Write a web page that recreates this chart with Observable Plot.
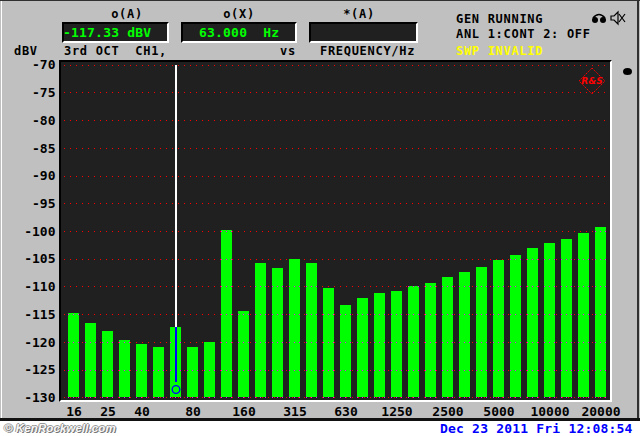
<!DOCTYPE html>
<html>
<head>
<meta charset="utf-8">
<script src="https://cdn.jsdelivr.net/npm/d3@7"></script>
<script src="https://cdn.jsdelivr.net/npm/@observablehq/plot@0.6"></script>
<style>
  html, body { margin: 0; padding: 0; background: #ffffff; }
  #wrap { position: relative; width: 640px; height: 436px; overflow: hidden; background: #ffffff;
          font-family: "DejaVu Sans Mono", monospace; font-weight: bold; }
  #screen { position: absolute; left: 0; top: 0; width: 640px; height: 418px; background: #c0c0c0; }
  .t { position: absolute; white-space: pre; font-size: 12px; line-height: 12px; letter-spacing: 0.7px; color: #000; }
  .c { text-align: center; width: 60px; }
  .box { position: absolute; box-sizing: border-box; height: 21px; top: 22px; background: #202020;
         border-top: 2px solid #000; border-left: 2px solid #000; border-right: 2px solid #fff; border-bottom: 2px solid #fff; }
  .g { position: absolute; white-space: pre; font-size: 13px; line-height: 13px; letter-spacing: 0.2px; color: #00ff00; }
  #panel { position: absolute; left: 59px; top: 60px; width: 553px; height: 342px; box-sizing: border-box;
           background: #202020; border-top: 2px solid #000; border-left: 2px solid #000;
           border-right: 2px solid #fff; border-bottom: 2px solid #fff; }
  #chart svg { position: absolute; left: 0; top: 0; }
</style>
</head>
<body>
<div id="wrap">
  <div id="screen"></div>
  <div style="position:absolute;left:0;top:0;width:640px;height:1px;background:#303030"></div>
  <div style="position:absolute;left:1px;top:1px;width:1px;height:417px;background:#ffffff"></div>
  <div style="position:absolute;left:637px;top:0;width:2px;height:418px;background:#303030"></div>
  <div style="position:absolute;left:0;top:418px;width:640px;height:3px;background:#111"></div>
  <div id="panel"></div>
  <div id="header"></div>
  <div id="chart"></div>
</div>
<script>
// ---- data ----
const bands = ["16","20","25","31.5","40","50","63","80","100","125","160","200","250","315","400","500",
               "630","800","1000","1250","1600","2000","2500","3150","4000","5000","6300","8000","10000","12500","16000","20000"];
const levels = [-114.8,-116.6,-118.0,-119.7,-120.4,-120.9,-117.33,-120.9,-120.0,-99.9,-114.4,-105.8,-106.7,-105.0,-105.8,-110.3,
                -113.4,-112.1,-111.2,-110.8,-109.9,-109.4,-108.3,-107.4,-106.5,-105.2,-104.3,-103.1,-102.2,-101.4,-100.4,-99.3];
const xTickLabels = ["16","25","40","80","160","315","630","1250","2500","5000","10000","20000"];
const yTicks = [-70,-75,-80,-85,-90,-95,-100,-105,-110,-115,-120,-125,-130];
const yDomain = [-130, -70];
const cursorBand = "63";
const cursorLevel = -117.33;
const cursorMarkerLevel = -128.5;
const cursorStemEnd = -127.2;

const readoutLabels = ["o(A)", "o(X)", "*(A)"];
const readoutValues = ["-117.33 dBV", "63.000  Hz", ""];
const statusLines = ["GEN RUNNING", "ANL 1:CONT 2: OFF", "SWP INVALID"];
const yUnit = "dBV";
const subtitleLeft = "3rd OCT  CH1,";
const subtitleVs = "vs";
const subtitleRight = "FREQUENCY/Hz";
const dateText = "Dec 23 2011 Fri 12:08:54";
const watermark = "\u00A9 KenRockwell.com";

// ---- header (HTML) ----
const header = document.getElementById("header");
function add(html) { header.insertAdjacentHTML("beforeend", html); }
const labelCenters = [127, 239, 359];
readoutLabels.forEach((s, i) => add(`<div class="t c" style="left:${labelCenters[i]-30}px;top:8px">${s}</div>`));
const boxes = [[62,107],[181,116],[309,109]];
boxes.forEach(([l,w], i) => add(`<div class="box" style="left:${l}px;width:${w}px"></div>`));
add(`<div class="g" style="left:63px;top:26px">${readoutValues[0]}</div>`);
add(`<div class="g" style="left:199px;top:26px">${readoutValues[1]}</div>`);
add(`<div class="t" style="left:14px;top:45px">${yUnit}</div>`);
add(`<div class="t" style="left:64px;top:45px">${subtitleLeft}</div>`);
add(`<div class="t" style="left:280px;top:45px">${subtitleVs}</div>`);
add(`<div class="t" style="left:320px;top:45px">${subtitleRight}</div>`);
add(`<div class="t" style="left:456px;top:13px">${statusLines[0]}</div>`);
add(`<div class="t" style="left:456px;top:28px">${statusLines[1]}</div>`);
add(`<div class="t" style="left:456px;top:45px;color:#ffff00">${statusLines[2]}</div>`);
add(`<div style="position:absolute;left:440px;top:422px;font-size:13px;line-height:13px;letter-spacing:0.2px;color:#0000ff;white-space:pre">${dateText}</div>`);
add(`<div style="position:absolute;left:4px;top:421px;font-family:'Liberation Sans',Arial,sans-serif;font-style:italic;font-weight:bold;font-size:11.5px;line-height:14px;color:#f8f8f8;letter-spacing:0.1px;text-shadow:1px 1px 0 #777,-1px 0 0 #999,0 -1px 0 #999,1px 0 0 #999">${watermark}</div>`);
// icons (decoration)
add(`<svg style="position:absolute;left:590px;top:10px" width="38" height="16" viewBox="0 0 38 16">
  <path d="M3 8 Q9 1 15 8" fill="none" stroke="#000" stroke-width="1.5"/>
  <circle cx="5" cy="10" r="3" fill="#000"/><circle cx="13" cy="10" r="3" fill="#000"/>
  <path d="M21 6 h3 l4 -4 v12 l-4 -4 h-3 z" fill="none" stroke="#000" stroke-width="1.2"/>
  <path d="M29 4 l6 8 M35 4 l-6 8" stroke="#000" stroke-width="1.2"/>
</svg>`);
add(`<svg style="position:absolute;left:578px;top:67px" width="28" height="28" viewBox="0 0 28 28">
  <polygon points="14,1 27,14 14,27 1,14" fill="none" stroke="#ff0000" stroke-width="1" stroke-dasharray="1.5,1"/>
  <text x="14" y="17" text-anchor="middle" font-family="DejaVu Sans" font-style="italic" font-size="9" fill="#ff0000">R&amp;S</text>
</svg>`);
add(`<div style="position:absolute;left:623px;top:68px;width:9px;height:7px;border-radius:50%;background:#000"></div>`);

// ---- chart ----
const data = bands.map((b, i) => ({band: b, level: levels[i]}));
const gridOnBars = data.flatMap(d => yTicks.filter(t => t < d.level).map(t => ({band: d.band, t})));

const chart = Plot.plot({
  width: 640,
  height: 436,
  marginLeft: 61,
  marginRight: 30,
  marginTop: 62,
  marginBottom: 36,
  style: {background: "transparent", color: "#000", fontFamily: "'DejaVu Sans Mono', monospace",
          fontSize: "13px", fontWeight: "bold", overflow: "visible"},
  x: {type: "band", domain: bands, range: [65, 609], paddingInner: 6/17, paddingOuter: 3/17,
      ticks: xTickLabels, tickSize: 0, tickPadding: 6, label: null},
  y: {domain: yDomain, range: [397.3, 64.7], ticks: yTicks, tickSize: 0, tickPadding: 6,
      tickFormat: d => String(d), label: null},
  marks: [
    Plot.ruleY(yTicks, {stroke: "#ff0000", strokeDasharray: "1,5", insetLeft: 3, insetRight: 4, shapeRendering: "crispEdges"}),
    Plot.barY(data, {x: "band", y1: yDomain[0], y2: "level", fill: "#00ff00", shapeRendering: "crispEdges"}),
    Plot.tickY(gridOnBars, {x: "band", y: "t", stroke: "#ff00ff", strokeDasharray: "1,4", shapeRendering: "crispEdges"}),
    Plot.ruleX([cursorBand], {x: d => d, y1: yDomain[1], y2: cursorLevel, stroke: "#ffffff", strokeWidth: 1.5, shapeRendering: "crispEdges"}),
    Plot.ruleX([cursorBand], {x: d => d, y1: cursorLevel, y2: cursorStemEnd, stroke: "#0000ff", strokeWidth: 1.5, shapeRendering: "crispEdges"}),
    Plot.dot([cursorBand], {x: d => d, y: cursorMarkerLevel, r: 3.8, stroke: "#0000ff", strokeWidth: 1.3, fill: "none"})
  ]
});
document.getElementById("chart").appendChild(chart);
</script>
</body>
</html>
